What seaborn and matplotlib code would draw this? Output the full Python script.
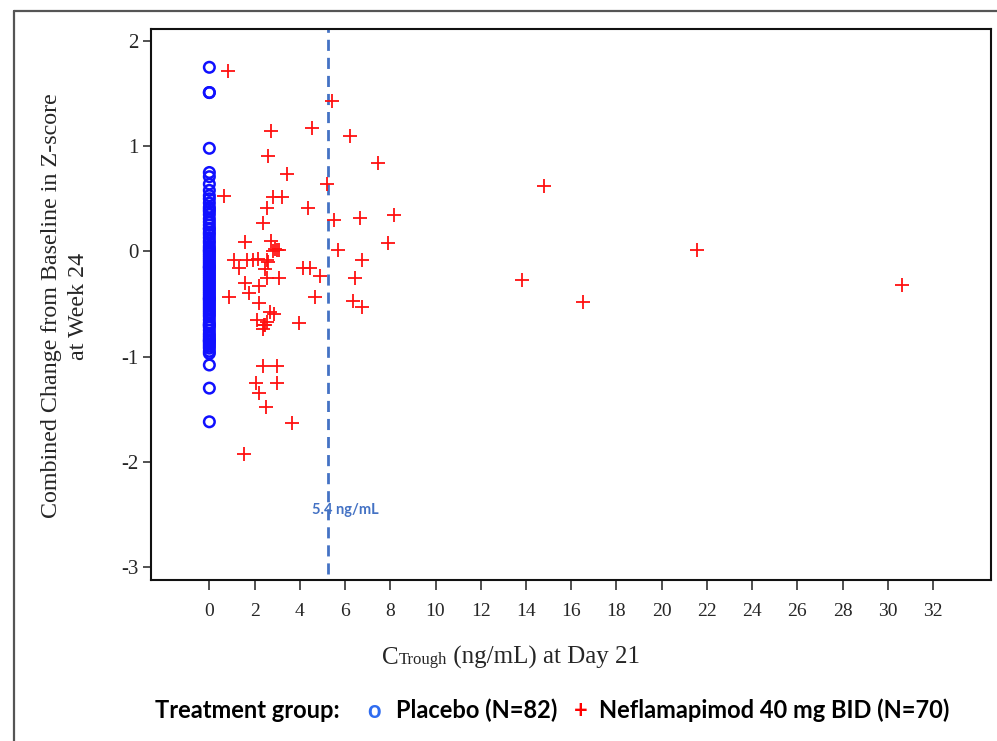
import matplotlib
matplotlib.use("Agg")
import matplotlib.pyplot as plt
import seaborn as sns
import pandas as pd
from matplotlib.lines import Line2D

# ---------------- data ----------------
placebo_ctrough = [0.0] * 82
placebo_change = [1.75, 1.51, 1.51, 0.98, 0.75, 0.71,
                  0.64, 0.58, 0.53, 0.50, 0.46, 0.42, 0.38, 0.35, 0.31, 0.28, 0.25,
                  0.21, 0.18, 0.16, 0.13, 0.10, 0.08, 0.05, 0.03, 0.01, 0.00,
                  -0.02, -0.04, -0.06, -0.08, -0.10, -0.12, -0.14, -0.16, -0.18, -0.20,
                  -0.22, -0.24, -0.26, -0.28, -0.30, -0.32, -0.34, -0.36, -0.38, -0.40,
                  -0.42, -0.44, -0.46, -0.48, -0.50, -0.52, -0.54, -0.56, -0.58, -0.60,
                  -0.62, -0.65, -0.68, -0.70, -0.72, -0.75, -0.78, -0.80, -0.82, -0.84,
                  -0.86, -0.88, -0.90, -0.92, -0.95, -0.97, -1.08, -1.30, -1.62,
                  0.40, 0.22, -0.15, -0.45, -0.70, -0.85]

nefla_ctrough = [0.84, 5.44, 2.74, 4.56, 6.20, 2.61, 3.45, 7.44, 5.22, 0.66,
                 2.83, 3.23, 2.57, 4.38, 14.79, 2.39, 5.53, 6.64, 8.15, 1.59,
                 2.74, 2.83, 2.97, 3.10, 5.67, 7.88, 21.56, 1.11, 1.68, 1.95,
                 2.17, 2.57, 6.73, 1.33, 2.48, 4.12, 4.43, 4.91, 6.46, 1.59,
                 2.21, 2.57, 3.10, 0.89, 1.77, 4.65, 2.21, 6.37, 6.73, 13.81,
                 16.51, 30.63, 2.66, 2.88, 2.12, 2.57, 2.35, 2.43, 3.98, 2.39,
                 3.01, 2.08, 2.97, 2.21, 2.52, 3.67, 1.51, 2.90, 2.60, 2.45]
nefla_change = [1.71, 1.43, 1.14, 1.17, 1.10, 0.91, 0.74, 0.84, 0.64, 0.53,
                0.52, 0.52, 0.41, 0.41, 0.62, 0.27, 0.30, 0.32, 0.35, 0.09,
                0.10, 0.00, 0.01, 0.01, 0.01, 0.08, 0.01, -0.08, -0.08, -0.08,
                -0.07, -0.08, -0.08, -0.16, -0.17, -0.16, -0.16, -0.23, -0.25, -0.30,
                -0.33, -0.25, -0.25, -0.43, -0.40, -0.43, -0.49, -0.47, -0.53, -0.27,
                -0.48, -0.32, -0.58, -0.60, -0.65, -0.67, -0.74, -0.70, -0.68, -1.09,
                -1.09, -1.25, -1.25, -1.35, -1.48, -1.63, -1.93, 0.02, -0.10, -0.70]

x_ticks = list(range(0, 33, 2))
y_ticks = [-3, -2, -1, 0, 1, 2]
threshold_x = 5.25
threshold_label = "5.4 ng/mL"
legend_title = "Treatment group:"
group_labels = ["Placebo (N=82)", "Neflamapimod 40 mg BID (N=70)"]

placebo_df = pd.DataFrame({"ctrough": placebo_ctrough, "change": placebo_change})
nefla_df = pd.DataFrame({"ctrough": nefla_ctrough, "change": nefla_change})

# ---------------- figure ----------------
sns.set_style("white")
W, H = 997, 741
fig = plt.figure(figsize=(W / 100, H / 100), dpi=100)
fig.patch.set_facecolor("white")

def fx(px):
    return px / W

def fy(py):
    return 1 - py / H

ax = fig.add_axes([fx(151), fy(580), fx(991) - fx(151), fy(29) - fy(580)])

sns.scatterplot(data=placebo_df, x="ctrough", y="change", ax=ax,
                marker="o", s=58, facecolors="none", edgecolors="#1010FF",
                linewidths=1.8, legend=False, zorder=3)
sns.scatterplot(data=nefla_df, x="ctrough", y="change", ax=ax,
                marker="+", s=105, color="#FF1010", linewidths=1.3,
                legend=False, zorder=3)

ax.axvline(threshold_x, ymin=0.01, ymax=1, color="#4472C4", lw=2.0,
           dashes=(4, 2.5), zorder=2)
ax.text(threshold_x + 0.75, -2.46, threshold_label, color="#4472C4",
        fontsize=10.5, fontweight="bold", family="Lato",
        ha="center", va="center")

ax.set_xlim(-2.58, 34.56)
ax.set_ylim(-3.124, 2.114)
ax.set_xticks(x_ticks)
ax.set_yticks(y_ticks)
ax.set_xticklabels([str(v) for v in x_ticks], family="Liberation Serif", fontsize=14)
ax.set_yticklabels([str(v) for v in y_ticks], family="Liberation Serif", fontsize=15)
ax.tick_params(axis="x", bottom=True, direction="out", length=7.5, width=1.1,
               pad=9, color="#222222")
ax.tick_params(axis="y", left=True, direction="out", length=6, width=1.1,
               pad=3, color="#222222")
ax.set_xlabel("")
ax.set_ylabel("")
for sp in ax.spines.values():
    sp.set_visible(True)
    sp.set_color("#111111")
    sp.set_linewidth(1.5)

# y label
fig.text(fx(65), fy(306), "Combined Change from Baseline in Z-score\nat Week 24",
         rotation=90, ha="center", va="center", multialignment="center",
         family="Liberation Serif", fontsize=17.3, linespacing=1.4)

# x label: C + small "Trough" + rest
xl_y = fy(664)
t1 = fig.text(fx(382), xl_y, "C", family="Liberation Serif", fontsize=18,
              ha="left", va="baseline")
t2 = fig.text(0, 0, "Trough", family="Liberation Serif", fontsize=12,
              ha="left", va="baseline")
t3 = fig.text(0, 0, " (ng/mL) at Day 21", family="Liberation Serif", fontsize=18,
              ha="left", va="baseline")
fig.canvas.draw()
r = fig.canvas.get_renderer()
bb1 = t1.get_window_extent(r)
t2.set_position((bb1.x1 / W, xl_y))
bb2 = t2.get_window_extent(r)
t3.set_position((bb2.x1 / W, xl_y))

# legend row made of text glyphs
ly = fy(710)
lf = dict(family="Lato", fontsize=17, fontweight="bold", va="center", ha="left")
fig.text(fx(155), ly, legend_title, color="black", **lf)
fig.text(fx(367), ly, "o", color="#2F6CF0", **lf)
fig.text(fx(396), ly, group_labels[0], color="black", **lf)
fig.text(fx(574), ly, "+", color="#FF0000", **lf)
fig.text(fx(599), ly, group_labels[1], color="black", **lf)

# outer graph frame
fig.add_artist(Line2D([fx(13.5), fx(13.5)], [fy(10.5), 0], color="#555555", lw=1.6))
fig.add_artist(Line2D([fx(13.5), 1], [fy(10.5), fy(10.5)], color="#555555", lw=1.6))

fig.savefig("out.png", dpi=100, facecolor="white")
